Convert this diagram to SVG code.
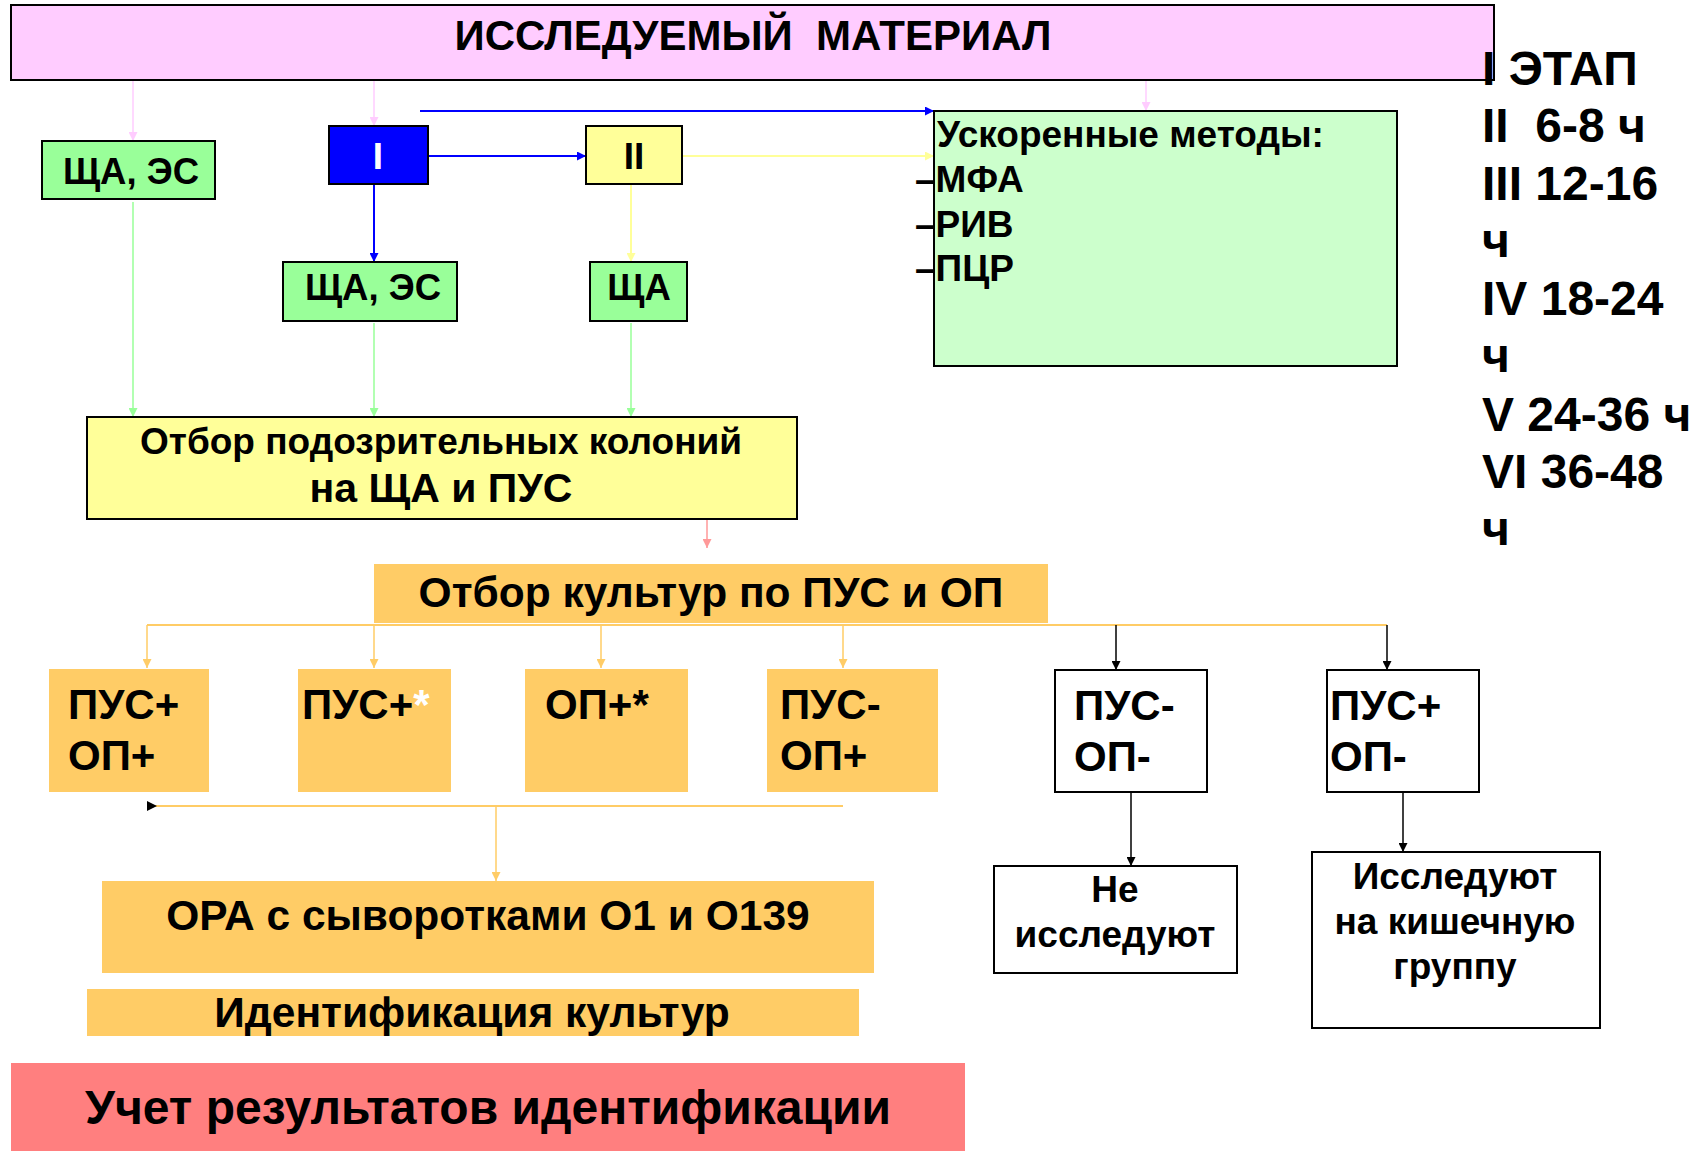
<svg xmlns="http://www.w3.org/2000/svg" width="1701" height="1151" viewBox="0 0 1701 1151">
<style>
text{font-family:"Liberation Sans",Arial,sans-serif;font-weight:bold;fill:#000}
.c{text-anchor:middle}
.box{stroke:#000;stroke-width:2}
.or{fill:#FFCC66}
.ln{fill:none}
</style>
<defs>
<marker id="mPink" viewBox="0 0 10 10" refX="10" refY="5" markerWidth="11" markerHeight="9" orient="auto" markerUnits="userSpaceOnUse"><path d="M0,0L10,5L0,10z" fill="#FFCCFF"/></marker>
<marker id="mBlue" viewBox="0 0 10 10" refX="10" refY="5" markerWidth="12" markerHeight="9" orient="auto" markerUnits="userSpaceOnUse"><path d="M0,0L10,5L0,10z" fill="#0000FF"/></marker>
<marker id="mYel" viewBox="0 0 10 10" refX="10" refY="5" markerWidth="11" markerHeight="9" orient="auto" markerUnits="userSpaceOnUse"><path d="M0,0L10,5L0,10z" fill="#FFFF99"/></marker>
<marker id="mGrn" viewBox="0 0 10 10" refX="10" refY="5" markerWidth="11" markerHeight="9" orient="auto" markerUnits="userSpaceOnUse"><path d="M0,0L10,5L0,10z" fill="#99FF99"/></marker>
<marker id="mRed" viewBox="0 0 10 10" refX="10" refY="5" markerWidth="11" markerHeight="9" orient="auto" markerUnits="userSpaceOnUse"><path d="M0,0L10,5L0,10z" fill="#FF9999"/></marker>
<marker id="mOr" viewBox="0 0 10 10" refX="10" refY="5" markerWidth="11" markerHeight="9" orient="auto" markerUnits="userSpaceOnUse"><path d="M0,0L10,5L0,10z" fill="#FFCC66"/></marker>
<marker id="mBlk" viewBox="0 0 10 10" refX="10" refY="5" markerWidth="12" markerHeight="9" orient="auto" markerUnits="userSpaceOnUse"><path d="M0,0L10,5L0,10z" fill="#000"/></marker>
</defs>
<rect width="1701" height="1151" fill="#fff"/>

<g id="connectors" class="ln">
<path d="M133,81V141" stroke="#FFCCFF" stroke-width="1.5" marker-end="url(#mPink)"/>
<path d="M374,81V126" stroke="#FFCCFF" stroke-width="1.5" marker-end="url(#mPink)"/>
<path d="M1146,81V111" stroke="#FFCCFF" stroke-width="1.5" marker-end="url(#mPink)"/>
<path d="M428,156H586" stroke="#0000FF" stroke-width="2" marker-end="url(#mBlue)"/>
<path d="M374,184V262" stroke="#0000FF" stroke-width="2" marker-end="url(#mBlue)"/>
<path d="M420,111H934" stroke="#0000FF" stroke-width="2" marker-end="url(#mBlue)"/>
<path d="M682,156H934" stroke="#FFFF99" stroke-width="2" marker-end="url(#mYel)"/>
<path d="M631,184V262" stroke="#FFFF99" stroke-width="2" marker-end="url(#mYel)"/>
<path d="M133,202V417" stroke="#99FF99" stroke-width="1.5" marker-end="url(#mGrn)"/>
<path d="M374,323V417" stroke="#99FF99" stroke-width="1.5" marker-end="url(#mGrn)"/>
<path d="M631,323V417" stroke="#99FF99" stroke-width="1.5" marker-end="url(#mGrn)"/>
<path d="M707,520V548" stroke="#FF9999" stroke-width="1.5" marker-end="url(#mRed)"/>
<path d="M147,625H1387" stroke="#FFCC66" stroke-width="2"/>
<path d="M147,625V668" stroke="#FFCC66" stroke-width="1.5" marker-end="url(#mOr)"/>
<path d="M374,625V668" stroke="#FFCC66" stroke-width="1.5" marker-end="url(#mOr)"/>
<path d="M601,625V668" stroke="#FFCC66" stroke-width="1.5" marker-end="url(#mOr)"/>
<path d="M843,625V668" stroke="#FFCC66" stroke-width="1.5" marker-end="url(#mOr)"/>
<path d="M1116,625V670" stroke="#000" stroke-width="1.5" marker-end="url(#mBlk)"/>
<path d="M1387,625V670" stroke="#000" stroke-width="1.5" marker-end="url(#mBlk)"/>
<path d="M1131,792V866" stroke="#000" stroke-width="1.5" marker-end="url(#mBlk)"/>
<path d="M1403,792V852" stroke="#000" stroke-width="1.5" marker-end="url(#mBlk)"/>
<path d="M155,806H843" stroke="#FFCC66" stroke-width="2"/>
<path d="M147,801L157,806L147,811z" fill="#000" stroke="none"/>
<path d="M496,806V881" stroke="#FFCC66" stroke-width="1.5" marker-end="url(#mOr)"/>
</g>

<g id="n-material">
<rect class="box" x="11" y="5" width="1483" height="75" fill="#FFCCFF" stroke-width="2.5"/>
<text class="c" x="753" y="50" font-size="42" xml:space="preserve">ИССЛЕДУЕМЫЙ  МАТЕРИАЛ</text>
</g>
<g id="n-sha-es-1">
<rect class="box" x="42" y="141" width="173" height="58" fill="#99FF99"/>
<text class="c" x="131" y="184" font-size="36.5">ЩА, ЭС</text>
</g>
<g id="n-I">
<rect class="box" x="329" y="126" width="99" height="58" fill="#0000FF"/>
<text class="c" x="378" y="169" font-size="37" style="fill:#fff">I</text>
</g>
<g id="n-II">
<rect class="box" x="586" y="126" width="96" height="58" fill="#FFFF99"/>
<text class="c" x="634" y="169" font-size="37">II</text>
</g>
<g id="n-sha-es-2">
<rect class="box" x="283" y="262" width="174" height="59" fill="#99FF99"/>
<text class="c" x="373" y="300" font-size="36.5">ЩА, ЭС</text>
</g>
<g id="n-sha">
<rect class="box" x="590" y="262" width="97" height="59" fill="#99FF99"/>
<text class="c" x="639" y="300" font-size="36.5">ЩА</text>
</g>
<g id="n-rapid">
<rect class="box" x="934" y="111" width="463" height="255" fill="#CCFFCC"/>
<text x="937" y="147" font-size="37">Ускоренные методы:</text>
<text x="915" y="192" font-size="37">–МФА</text>
<text x="915" y="237" font-size="37">–РИВ</text>
<text x="915" y="281" font-size="37">–ПЦР</text>
</g>
<g id="n-stages">
<text x="1482" y="85" font-size="48">I ЭТАП</text>
<text x="1482" y="142" font-size="48" xml:space="preserve">II  6-8 ч</text>
<text x="1482" y="200" font-size="48">III 12-16</text>
<text x="1482" y="257" font-size="48">ч</text>
<text x="1482" y="315" font-size="48">IV 18-24</text>
<text x="1482" y="372" font-size="48">ч</text>
<text x="1482" y="431" font-size="48">V 24-36 ч</text>
<text x="1482" y="488" font-size="48">VI 36-48</text>
<text x="1482" y="545" font-size="48">ч</text>
</g>
<g id="n-otbor-kolonii">
<rect class="box" x="87" y="417" width="710" height="102" fill="#FFFF99"/>
<text class="c" x="441" y="454" font-size="37">Отбор подозрительных колоний</text>
<text class="c" x="441" y="502" font-size="41">на ЩА и ПУС</text>
</g>
<g id="n-otbor-kultur">
<rect class="or" x="374" y="564" width="674" height="59"/>
<text class="c" x="711" y="607" font-size="42.5">Отбор культур по ПУС и ОП</text>
</g>
<g id="n-pus-op">
<rect class="or" x="49" y="669" width="160" height="123"/>
<text x="68" y="719" font-size="42">ПУС+</text>
<text x="68" y="770" font-size="42">ОП+</text>
</g>
<g id="n-pus">
<rect class="or" x="298" y="669" width="153" height="123"/>
<text x="302" y="719" font-size="42">ПУС+<tspan style="fill:#fff">*</tspan></text>
</g>
<g id="n-op">
<rect class="or" x="525" y="669" width="163" height="123"/>
<text x="545" y="719" font-size="42">ОП+*</text>
</g>
<g id="n-pusminus-op">
<rect class="or" x="767" y="669" width="171" height="123"/>
<text x="780" y="719" font-size="42">ПУС-</text>
<text x="780" y="770" font-size="42">ОП+</text>
</g>
<g id="n-pusminus-opminus">
<rect class="box" x="1055" y="670" width="152" height="122" fill="#fff"/>
<text x="1074" y="720" font-size="42">ПУС-</text>
<text x="1074" y="771" font-size="42">ОП-</text>
</g>
<g id="n-pusplus-opminus">
<rect class="box" x="1327" y="670" width="152" height="122" fill="#fff"/>
<text x="1330" y="720" font-size="42">ПУС+</text>
<text x="1330" y="771" font-size="42">ОП-</text>
</g>
<g id="n-ne">
<rect class="box" x="994" y="866" width="243" height="107" fill="#fff"/>
<text class="c" x="1115" y="902" font-size="37">Не</text>
<text class="c" x="1115" y="947" font-size="37">исследуют</text>
</g>
<g id="n-issleduyut">
<rect class="box" x="1312" y="852" width="288" height="176" fill="#fff"/>
<text class="c" x="1455" y="889" font-size="37">Исследуют</text>
<text class="c" x="1455" y="934" font-size="37">на кишечную</text>
<text class="c" x="1455" y="979" font-size="37">группу</text>
</g>
<g id="n-ora">
<rect class="or" x="102" y="881" width="772" height="92"/>
<text class="c" x="488" y="930" font-size="42.5">ОРА с сыворотками О1 и О139</text>
</g>
<g id="n-ident">
<rect class="or" x="87" y="989" width="772" height="47"/>
<text class="c" x="472" y="1027" font-size="42.5">Идентификация культур</text>
</g>
<g id="n-uchet">
<rect x="11" y="1063" width="954" height="88" fill="#FF7F7F"/>
<text class="c" x="488" y="1124" font-size="48">Учет результатов идентификации</text>
</g>
</svg>
